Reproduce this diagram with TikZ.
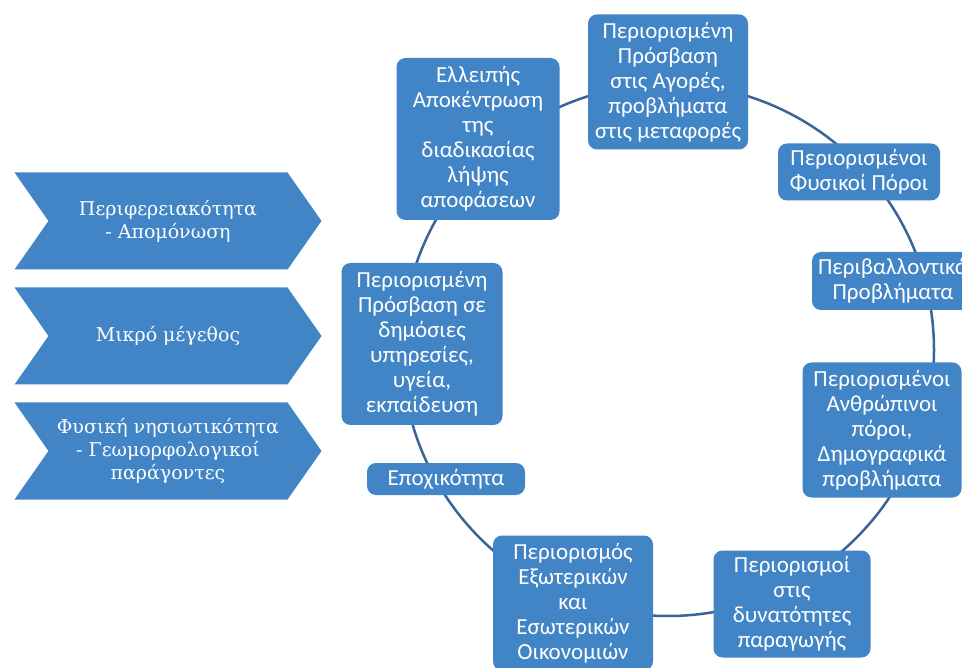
\documentclass[tikz,border=0pt]{standalone}
\usepackage{fontspec}
\setmainfont{Carlito}
\newfontfamily\chevronfont{DejaVu Serif}
\usetikzlibrary{shapes,positioning}
\definecolor{boxblue}{RGB}{66,133,199}
\definecolor{ringblue}{RGB}{58,100,150}

\begin{document}
\begin{tikzpicture}[x=1pt,y=-1pt]
\tikzstyle{issue} = [rectangle, rounded corners=9pt, fill=boxblue, text=white, align=center, inner sep=0pt, font=\fontsize{23}{25}\selectfont];%
\tikzstyle{chevron} = [signal, signal to=east, signal from=west, signal pointer angle=110, fill=boxblue, text=white, align=center, minimum width=307pt, minimum height=97pt, inner sep=0pt, font=\chevronfont\fontsize{19}{23}\selectfont];%
\tikzstyle{ring} = [draw=ringblue, line width=2.5pt];%

\useasboundingbox (0,0) rectangle (962,668);
\clip (0,0) rectangle (962,668);

% the cycle behind the boxes
\coordinate (hub) at (668,350);
\draw[ring] (hub) circle (266pt);

\node at (168,221) [chevron] (periph) {Περιφερειακότητα\\- Απομόνωση};
\node at (168,336) [chevron] (size) {Μικρό μέγεθος};
\node at (168,451) [chevron] (island) {Φυσική νησιωτικότητα\\- Γεωμορφολογικοί\\παράγοντες};

\node at (668,82)  [issue, minimum width=160pt, minimum height=135pt] (markets) {Περιορισμένη\\Πρόσβαση\\στις Αγορές,\\προβλήματα\\στις μεταφορές};
\node at (859,172) [issue, minimum width=162pt, minimum height=57pt] (natres) {Περιορισμένοι\\Φυσικοί Πόροι};
\node at (893,281) [issue, minimum width=162pt, minimum height=58pt] (envir) {Περιβαλλοντικά\\Προβλήματα};
\node at (882,430) [issue, minimum width=159pt, minimum height=135pt] (human) {Περιορισμένοι\\Ανθρώπινοι\\πόροι,\\Δημογραφικά\\προβλήματα};
\node at (792,604) [issue, minimum width=157pt, minimum height=107pt] (prod) {Περιορισμοί\\στις\\δυνατότητες\\παραγωγής};
\node at (573,603) [issue, minimum width=160pt, minimum height=135pt] (econ) {Περιορισμός\\Εξωτερικών\\και\\Εσωτερικών\\Οικονομιών};
\node at (446,479) [issue, minimum width=158pt, minimum height=32pt] (seasonal) {Εποχικότητα};
\node at (422,344) [issue, minimum width=161pt, minimum height=162pt] (public) {Περιορισμένη\\Πρόσβαση σε\\δημόσιες\\υπηρεσίες,\\υγεία,\\εκπαίδευση};
\node at (478,139) [issue, minimum width=163pt, minimum height=162pt] (decentr) {Ελλειπής\\Αποκέντρωση\\της\\διαδικασίας\\λήψης\\αποφάσεων};

\end{tikzpicture}
\end{document}
